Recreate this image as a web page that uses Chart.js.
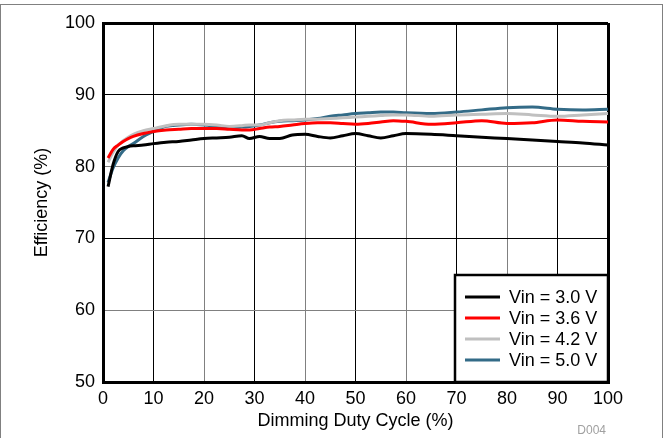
<!DOCTYPE html>
<html>
<head>
<meta charset="utf-8">
<script src="https://cdn.jsdelivr.net/npm/chart.js@4/dist/chart.umd.min.js"></script>
<style>
  html, body { margin: 0; padding: 0; background: #fff; }
  #wrap { position: relative; width: 663px; height: 438px; }
  #frame { position: absolute; left: 0; top: 4px; width: 661px; height: 440px; border: 1px solid #808080; pointer-events: none; }
  #code { position: absolute; right: 57px; top: 423px; font: 12px "Liberation Sans", Arial, sans-serif; color: #a0a0a0; }
</style>
</head>
<body>
<div id="wrap">
  <canvas id="c"></canvas>
  <div id="frame"></div>
  <div id="code">D004</div>
</div>
<script>
const dutyCycle = [1,2,3,4,5,6,8,10,12.5,15,17.5,20,22.5,25,27.5,29,31,33,35,37.5,40,42.5,45,47.5,50,52.5,55,57.5,60,65,70,75,80,85,90,95,100];
const vin30 = [77.2,80.3,82.1,82.6,82.8,82.9,83.0,83.2,83.4,83.5,83.7,83.9,84.0,84.1,84.3,83.9,84.2,83.9,83.9,84.4,84.5,84.2,84.0,84.3,84.6,84.3,84.0,84.3,84.6,84.5,84.3,84.1,83.9,83.7,83.5,83.3,83.0];
const vin36 = [81.2,82.4,83.0,83.5,83.9,84.2,84.6,84.9,85.1,85.2,85.3,85.3,85.3,85.2,85.1,85.1,85.3,85.5,85.6,85.8,86.0,86.1,86.1,86.0,85.9,86.0,86.2,86.4,86.3,85.9,86.1,86.4,86.0,86.1,86.5,86.3,86.2];
const vin42 = [80.6,82.0,83.0,83.6,84.1,84.5,85.0,85.3,85.7,85.9,85.9,85.9,85.8,85.6,85.7,85.8,85.8,86.1,86.4,86.5,86.6,86.6,86.7,86.8,86.9,87.0,87.1,87.2,87.2,87.0,87.2,87.3,87.4,87.2,87.0,87.2,87.4];
const vin50 = [77.8,79.8,81.2,82.2,82.8,83.2,84.2,84.9,85.6,85.8,85.9,85.8,85.6,85.4,85.5,85.6,85.8,86.1,86.3,86.4,86.5,86.7,87.0,87.2,87.4,87.5,87.6,87.6,87.5,87.4,87.6,87.9,88.2,88.3,88.0,87.9,88.0];
const seriesLabels = ['Vin = 3.0 V','Vin = 3.6 V','Vin = 4.2 V','Vin = 5.0 V'];
const seriesColors = ['#000000','#ff0000','#c0c0c0','#336b87'];
const xTitle = 'Dimming Duty Cycle (%)';
const yTitle = 'Efficiency (%)';

const FONT = '"Liberation Sans", Arial, Helvetica, sans-serif';
const allSeries = [vin30, vin36, vin42, vin50];
const datasets = allSeries.map((vals, i) => ({
  label: seriesLabels[i],
  data: vals.map((v, j) => ({x: dutyCycle[j], y: v})),
  borderColor: seriesColors[i],
  backgroundColor: seriesColors[i],
  borderWidth: 3,
  pointRadius: 0,
  cubicInterpolationMode: 'monotone',
  fill: false
}));

const boxLegend = {
  id: 'boxLegend',
  afterDraw(chart) {
    const ctx = chart.ctx, a = chart.chartArea;
    const w = 153, h = 107;
    const x0 = a.right - w, y0 = a.bottom - h;
    ctx.save();
    ctx.fillStyle = '#fff';
    ctx.fillRect(x0, y0, w, h);
    ctx.lineWidth = 2.5;
    ctx.strokeStyle = '#000';
    ctx.strokeRect(x0, y0, w, h);
    ctx.font = '18px ' + FONT;
    ctx.textBaseline = 'middle';
    ctx.textAlign = 'left';
    chart.data.datasets.forEach((ds, i) => {
      const y = y0 + 22 + i * 21;
      ctx.strokeStyle = ds.borderColor;
      ctx.lineWidth = 3;
      ctx.beginPath();
      ctx.moveTo(x0 + 10, y);
      ctx.lineTo(x0 + 45, y);
      ctx.stroke();
      ctx.fillStyle = '#000';
      ctx.fillText(ds.label, x0 + 54, y + 1);
    });
    ctx.restore();
  }
};

function gridColor(ctx, edges) {
  const v = ctx.tick ? ctx.tick.value : null;
  if (edges.includes(v)) return '#000';
  return (Math.round(v / 10) % 2 === 1) ? '#000' : '#808080';
}
function gridWidth(ctx, edges) {
  const v = ctx.tick ? ctx.tick.value : null;
  return edges.includes(v) ? 3 : 1;
}

new Chart(document.getElementById('c'), {
  type: 'line',
  data: { datasets },
  plugins: [boxLegend],
  options: {
    responsive: true,
    maintainAspectRatio: false,
    animation: false,
    layout: { padding: { top: 23, right: 55, left: 0, bottom: 0 } },
    plugins: { legend: { display: false }, tooltip: { enabled: false } },
    scales: {
      x: {
        type: 'linear', min: 0, max: 100,
        afterFit(s) { s.height = 56; },
        ticks: { stepSize: 10, padding: 6, color: '#000', font: { family: FONT, size: 18 } },
        grid: { drawTicks: false, color: c => gridColor(c, [0, 100]), lineWidth: c => gridWidth(c, [0, 100]) },
        border: { display: true, color: '#000', width: 3 },
        title: { display: true, text: xTitle, color: '#000', font: { family: FONT, size: 18 }, padding: { top: 0, bottom: 6 } }
      },
      y: {
        type: 'linear', min: 50, max: 100,
        afterFit(s) { s.width = 103; },
        ticks: { stepSize: 10, padding: 8, color: '#000', font: { family: FONT, size: 18 } },
        grid: { drawTicks: false, color: c => gridColor(c, [50, 100]), lineWidth: c => gridWidth(c, [50, 100]) },
        border: { display: true, color: '#000', width: 3 },
        title: { display: true, text: yTitle, color: '#000', font: { family: FONT, size: 18 }, padding: { top: 31, bottom: 0 } }
      }
    }
  }
});
</script>
</body>
</html>
